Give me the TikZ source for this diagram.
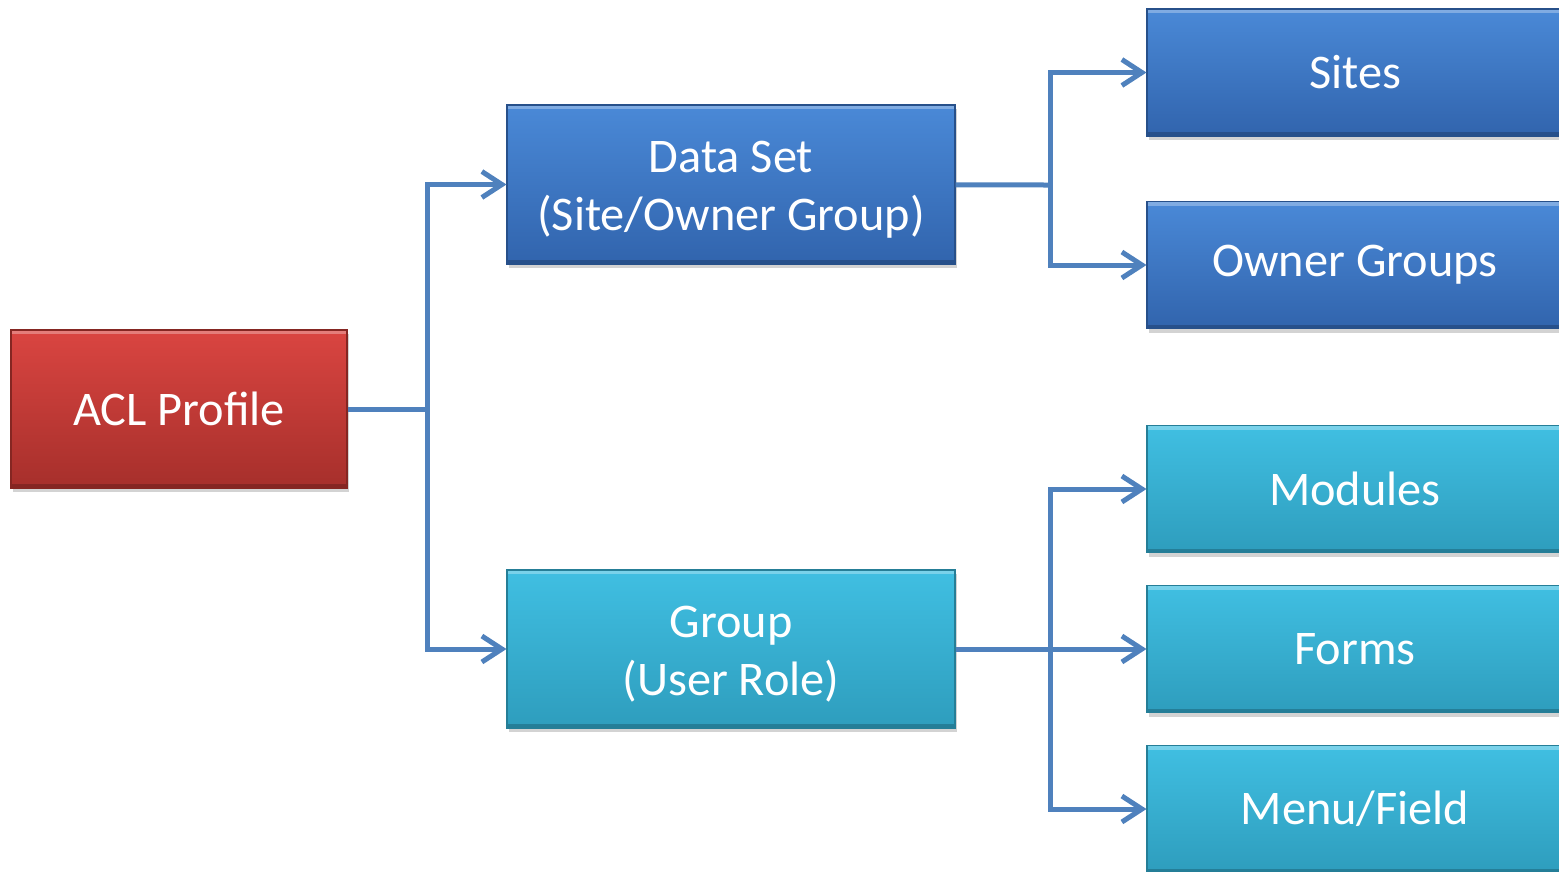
\documentclass[tikz,border=0pt]{standalone}
\usepackage{fontspec}
\setmainfont{Carlito}
\usetikzlibrary{arrows.meta,shadows}
\definecolor{redtop}{HTML}{DA4541}
\definecolor{redbot}{HTML}{A62F2B}
\definecolor{bluetop}{HTML}{4A89D7}
\definecolor{bluebot}{HTML}{3164AD}
\definecolor{cyantop}{HTML}{40BFE2}
\definecolor{cyanbot}{HTML}{2E9DBD}
\definecolor{linkblue}{HTML}{4F81BD}
\begin{document}
\begin{tikzpicture}[x=1cm,y=1cm,
  box/.style={rectangle, align=center, text=white, inner sep=0pt,
    font=\fontsize{13.75}{16.5}\selectfont,
    drop shadow={opacity=0.35, shadow xshift=0.02cm, shadow yshift=-0.04cm},
    path picture={
      \fill[white, opacity=0.3] (path picture bounding box.north west) rectangle ([yshift=-0.04cm]path picture bounding box.north east);
      \fill[black, opacity=0.2] (path picture bounding box.south west) rectangle ([yshift=0.04cm]path picture bounding box.south east);}},
  twoline/.style={text height=29pt, text depth=2.8pt},
  redbox/.style={box, top color=redtop, bottom color=redbot, draw=redbot!80!black, line width=0.3pt},
  bluebox/.style={box, top color=bluetop, bottom color=bluebot, draw=bluebot!80!black, line width=0.3pt},
  cyanbox/.style={box, top color=cyantop, bottom color=cyanbot, draw=cyanbot!80!black, line width=0.3pt},
  link/.style={draw=linkblue, line width=0.05cm},
  arr/.style={link, -{Straight Barb[length=2mm, width=2.6mm, line width=0.05cm]}}]
\useasboundingbox (0,0) rectangle (15.59,-8.71);
\node[redbox, minimum width=3.36cm, minimum height=1.58cm] (acl) at (1.79,-4.09) {ACL Profile};
\node[bluebox, twoline, minimum width=4.48cm, minimum height=1.59cm] (ds) at (7.31,-1.845) {Data Set\\(Site/Owner Group)};
\node[cyanbox, twoline, minimum width=4.48cm, minimum height=1.58cm] (grp) at (7.31,-6.49) {Group\\(User Role)};
\node[bluebox, minimum width=4.16cm, minimum height=1.27cm] (sites) at (13.55,-0.725) {Sites};
\node[bluebox, minimum width=4.16cm, minimum height=1.27cm] (owner) at (13.55,-2.65) {Owner Groups};
\node[cyanbox, minimum width=4.16cm, minimum height=1.27cm] (mod) at (13.55,-4.89) {Modules};
\node[cyanbox, minimum width=4.16cm, minimum height=1.27cm] (forms) at (13.55,-6.49) {Forms};
\node[cyanbox, minimum width=4.16cm, minimum height=1.27cm] (menu) at (13.55,-8.09) {Menu/Field};
% branch points
\coordinate (j1) at (4.27,-4.09);
\coordinate (j2) at (10.50,-1.85);
\coordinate (j3) at (10.50,-6.49);
\draw[link] (acl) -- (j1);
\draw[arr] (j1) |- (ds);
\draw[arr] (j1) |- (grp);
\draw[link] (ds) -- (j2);
\draw[arr] (j2) |- (sites);
\draw[arr] (j2) |- (owner);
\draw[link] (grp) -- (j3);
\draw[arr] (j3) |- (mod);
\draw[arr] (j3) -- (forms);
\draw[arr] (j3) |- (menu);
\end{tikzpicture}
\end{document}
